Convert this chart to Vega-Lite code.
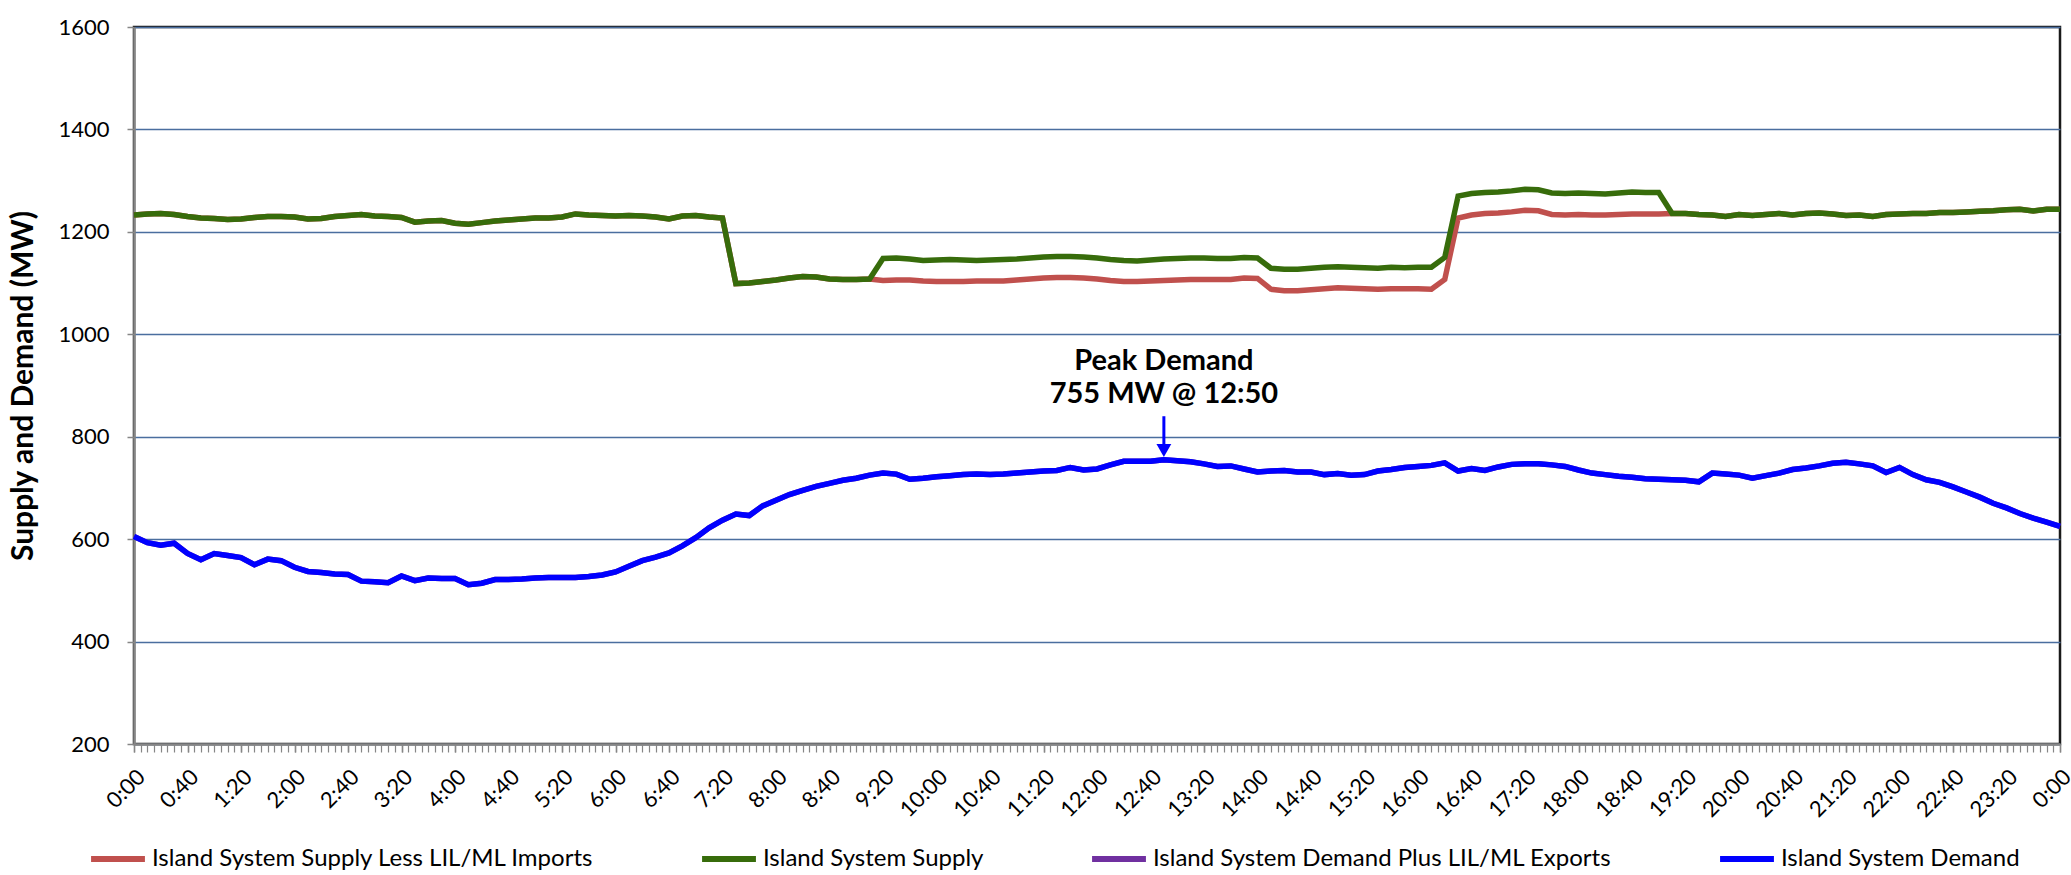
{
  "$schema": "https://vega.github.io/schema/vega-lite/v6.json",
  "width": 1926,
  "height": 717,
  "autosize": "none",
  "padding": {"left": 134, "top": 27, "right": 11, "bottom": 131},
  "background": "white",
  "config": {
    "font": "Lato",
    "view": {"stroke": "#1a1a1a", "strokeWidth": 2.5},
    "axis": {"labelColor": "#000", "titleColor": "#000", "labelFont": "Lato", "titleFont": "Lato"}
  },
  "datasets": {
    "load": [
      {"time":"2024-01-01T00:00","supplyLess":1233,"supply":1233,"demandPlus":605,"demand":605},
      {"time":"2024-01-01T00:10","supplyLess":1235,"supply":1235,"demandPlus":593,"demand":593},
      {"time":"2024-01-01T00:20","supplyLess":1236,"supply":1236,"demandPlus":588,"demand":588},
      {"time":"2024-01-01T00:30","supplyLess":1234,"supply":1234,"demandPlus":592,"demand":592},
      {"time":"2024-01-01T00:40","supplyLess":1230,"supply":1230,"demandPlus":572,"demand":572},
      {"time":"2024-01-01T00:50","supplyLess":1227,"supply":1227,"demandPlus":560,"demand":560},
      {"time":"2024-01-01T01:00","supplyLess":1226,"supply":1226,"demandPlus":572,"demand":572},
      {"time":"2024-01-01T01:10","supplyLess":1224,"supply":1224,"demandPlus":568,"demand":568},
      {"time":"2024-01-01T01:20","supplyLess":1225,"supply":1225,"demandPlus":564,"demand":564},
      {"time":"2024-01-01T01:30","supplyLess":1228,"supply":1228,"demandPlus":550,"demand":550},
      {"time":"2024-01-01T01:40","supplyLess":1230,"supply":1230,"demandPlus":561,"demand":561},
      {"time":"2024-01-01T01:50","supplyLess":1230,"supply":1230,"demandPlus":558,"demand":558},
      {"time":"2024-01-01T02:00","supplyLess":1229,"supply":1229,"demandPlus":545,"demand":545},
      {"time":"2024-01-01T02:10","supplyLess":1225,"supply":1225,"demandPlus":537,"demand":537},
      {"time":"2024-01-01T02:20","supplyLess":1226,"supply":1226,"demandPlus":535,"demand":535},
      {"time":"2024-01-01T02:30","supplyLess":1230,"supply":1230,"demandPlus":532,"demand":532},
      {"time":"2024-01-01T02:40","supplyLess":1232,"supply":1232,"demandPlus":531,"demand":531},
      {"time":"2024-01-01T02:50","supplyLess":1234,"supply":1234,"demandPlus":518,"demand":518},
      {"time":"2024-01-01T03:00","supplyLess":1231,"supply":1231,"demandPlus":517,"demand":517},
      {"time":"2024-01-01T03:10","supplyLess":1230,"supply":1230,"demandPlus":515,"demand":515},
      {"time":"2024-01-01T03:20","supplyLess":1228,"supply":1228,"demandPlus":528,"demand":528},
      {"time":"2024-01-01T03:30","supplyLess":1219,"supply":1219,"demandPlus":519,"demand":519},
      {"time":"2024-01-01T03:40","supplyLess":1221,"supply":1221,"demandPlus":524,"demand":524},
      {"time":"2024-01-01T03:50","supplyLess":1222,"supply":1222,"demandPlus":523,"demand":523},
      {"time":"2024-01-01T04:00","supplyLess":1217,"supply":1217,"demandPlus":523,"demand":523},
      {"time":"2024-01-01T04:10","supplyLess":1215,"supply":1215,"demandPlus":511,"demand":511},
      {"time":"2024-01-01T04:20","supplyLess":1218,"supply":1218,"demandPlus":514,"demand":514},
      {"time":"2024-01-01T04:30","supplyLess":1221,"supply":1221,"demandPlus":521,"demand":521},
      {"time":"2024-01-01T04:40","supplyLess":1223,"supply":1223,"demandPlus":521,"demand":521},
      {"time":"2024-01-01T04:50","supplyLess":1225,"supply":1225,"demandPlus":522,"demand":522},
      {"time":"2024-01-01T05:00","supplyLess":1227,"supply":1227,"demandPlus":524,"demand":524},
      {"time":"2024-01-01T05:10","supplyLess":1227,"supply":1227,"demandPlus":525,"demand":525},
      {"time":"2024-01-01T05:20","supplyLess":1229,"supply":1229,"demandPlus":525,"demand":525},
      {"time":"2024-01-01T05:30","supplyLess":1235,"supply":1235,"demandPlus":525,"demand":525},
      {"time":"2024-01-01T05:40","supplyLess":1233,"supply":1233,"demandPlus":527,"demand":527},
      {"time":"2024-01-01T05:50","supplyLess":1232,"supply":1232,"demandPlus":530,"demand":530},
      {"time":"2024-01-01T06:00","supplyLess":1231,"supply":1231,"demandPlus":536,"demand":536},
      {"time":"2024-01-01T06:10","supplyLess":1232,"supply":1232,"demandPlus":547,"demand":547},
      {"time":"2024-01-01T06:20","supplyLess":1231,"supply":1231,"demandPlus":558,"demand":558},
      {"time":"2024-01-01T06:30","supplyLess":1229,"supply":1229,"demandPlus":565,"demand":565},
      {"time":"2024-01-01T06:40","supplyLess":1225,"supply":1225,"demandPlus":573,"demand":573},
      {"time":"2024-01-01T06:50","supplyLess":1231,"supply":1231,"demandPlus":587,"demand":587},
      {"time":"2024-01-01T07:00","supplyLess":1232,"supply":1232,"demandPlus":603,"demand":603},
      {"time":"2024-01-01T07:10","supplyLess":1229,"supply":1229,"demandPlus":622,"demand":622},
      {"time":"2024-01-01T07:20","supplyLess":1227,"supply":1227,"demandPlus":637,"demand":637},
      {"time":"2024-01-01T07:30","supplyLess":1099,"supply":1099,"demandPlus":649,"demand":649},
      {"time":"2024-01-01T07:40","supplyLess":1100,"supply":1100,"demandPlus":646,"demand":646},
      {"time":"2024-01-01T07:50","supplyLess":1103,"supply":1103,"demandPlus":665,"demand":665},
      {"time":"2024-01-01T08:00","supplyLess":1106,"supply":1106,"demandPlus":676,"demand":676},
      {"time":"2024-01-01T08:10","supplyLess":1110,"supply":1110,"demandPlus":687,"demand":687},
      {"time":"2024-01-01T08:20","supplyLess":1113,"supply":1113,"demandPlus":695,"demand":695},
      {"time":"2024-01-01T08:30","supplyLess":1112,"supply":1112,"demandPlus":703,"demand":703},
      {"time":"2024-01-01T08:40","supplyLess":1108,"supply":1108,"demandPlus":709,"demand":709},
      {"time":"2024-01-01T08:50","supplyLess":1107,"supply":1107,"demandPlus":715,"demand":715},
      {"time":"2024-01-01T09:00","supplyLess":1107,"supply":1107,"demandPlus":719,"demand":719},
      {"time":"2024-01-01T09:10","supplyLess":1108,"supply":1108,"demandPlus":725,"demand":725},
      {"time":"2024-01-01T09:20","supplyLess":1105,"supply":1148,"demandPlus":729,"demand":729},
      {"time":"2024-01-01T09:30","supplyLess":1106,"supply":1149,"demandPlus":727,"demand":727},
      {"time":"2024-01-01T09:40","supplyLess":1106,"supply":1147,"demandPlus":717,"demand":717},
      {"time":"2024-01-01T09:50","supplyLess":1104,"supply":1144,"demandPlus":719,"demand":719},
      {"time":"2024-01-01T10:00","supplyLess":1103,"supply":1145,"demandPlus":722,"demand":722},
      {"time":"2024-01-01T10:10","supplyLess":1103,"supply":1146,"demandPlus":724,"demand":724},
      {"time":"2024-01-01T10:20","supplyLess":1103,"supply":1145,"demandPlus":726,"demand":726},
      {"time":"2024-01-01T10:30","supplyLess":1104,"supply":1144,"demandPlus":727,"demand":727},
      {"time":"2024-01-01T10:40","supplyLess":1104,"supply":1145,"demandPlus":726,"demand":726},
      {"time":"2024-01-01T10:50","supplyLess":1104,"supply":1146,"demandPlus":727,"demand":727},
      {"time":"2024-01-01T11:00","supplyLess":1106,"supply":1147,"demandPlus":729,"demand":729},
      {"time":"2024-01-01T11:10","supplyLess":1108,"supply":1149,"demandPlus":731,"demand":731},
      {"time":"2024-01-01T11:20","supplyLess":1110,"supply":1151,"demandPlus":733,"demand":733},
      {"time":"2024-01-01T11:30","supplyLess":1111,"supply":1152,"demandPlus":734,"demand":734},
      {"time":"2024-01-01T11:40","supplyLess":1111,"supply":1152,"demandPlus":740,"demand":740},
      {"time":"2024-01-01T11:50","supplyLess":1110,"supply":1151,"demandPlus":735,"demand":735},
      {"time":"2024-01-01T12:00","supplyLess":1108,"supply":1149,"demandPlus":737,"demand":737},
      {"time":"2024-01-01T12:10","supplyLess":1105,"supply":1146,"demandPlus":745,"demand":745},
      {"time":"2024-01-01T12:20","supplyLess":1103,"supply":1144,"demandPlus":752,"demand":752},
      {"time":"2024-01-01T12:30","supplyLess":1103,"supply":1143,"demandPlus":752,"demand":752},
      {"time":"2024-01-01T12:40","supplyLess":1104,"supply":1145,"demandPlus":752,"demand":752},
      {"time":"2024-01-01T12:50","supplyLess":1105,"supply":1147,"demandPlus":755,"demand":755},
      {"time":"2024-01-01T13:00","supplyLess":1106,"supply":1148,"demandPlus":753,"demand":753},
      {"time":"2024-01-01T13:10","supplyLess":1107,"supply":1149,"demandPlus":751,"demand":751},
      {"time":"2024-01-01T13:20","supplyLess":1107,"supply":1149,"demandPlus":747,"demand":747},
      {"time":"2024-01-01T13:30","supplyLess":1107,"supply":1148,"demandPlus":742,"demand":742},
      {"time":"2024-01-01T13:40","supplyLess":1107,"supply":1148,"demandPlus":743,"demand":743},
      {"time":"2024-01-01T13:50","supplyLess":1110,"supply":1150,"demandPlus":737,"demand":737},
      {"time":"2024-01-01T14:00","supplyLess":1109,"supply":1149,"demandPlus":731,"demand":731},
      {"time":"2024-01-01T14:10","supplyLess":1088,"supply":1129,"demandPlus":733,"demand":733},
      {"time":"2024-01-01T14:20","supplyLess":1085,"supply":1127,"demandPlus":734,"demand":734},
      {"time":"2024-01-01T14:30","supplyLess":1085,"supply":1127,"demandPlus":731,"demand":731},
      {"time":"2024-01-01T14:40","supplyLess":1087,"supply":1129,"demandPlus":731,"demand":731},
      {"time":"2024-01-01T14:50","supplyLess":1089,"supply":1131,"demandPlus":726,"demand":726},
      {"time":"2024-01-01T15:00","supplyLess":1091,"supply":1132,"demandPlus":728,"demand":728},
      {"time":"2024-01-01T15:10","supplyLess":1090,"supply":1131,"demandPlus":725,"demand":725},
      {"time":"2024-01-01T15:20","supplyLess":1089,"supply":1130,"demandPlus":726,"demand":726},
      {"time":"2024-01-01T15:30","supplyLess":1088,"supply":1129,"demandPlus":733,"demand":733},
      {"time":"2024-01-01T15:40","supplyLess":1089,"supply":1131,"demandPlus":736,"demand":736},
      {"time":"2024-01-01T15:50","supplyLess":1089,"supply":1130,"demandPlus":740,"demand":740},
      {"time":"2024-01-01T16:00","supplyLess":1089,"supply":1131,"demandPlus":742,"demand":742},
      {"time":"2024-01-01T16:10","supplyLess":1088,"supply":1131,"demandPlus":744,"demand":744},
      {"time":"2024-01-01T16:20","supplyLess":1107,"supply":1150,"demandPlus":749,"demand":749},
      {"time":"2024-01-01T16:30","supplyLess":1227,"supply":1270,"demandPlus":733,"demand":733},
      {"time":"2024-01-01T16:40","supplyLess":1233,"supply":1275,"demandPlus":738,"demand":738},
      {"time":"2024-01-01T16:50","supplyLess":1236,"supply":1277,"demandPlus":734,"demand":734},
      {"time":"2024-01-01T17:00","supplyLess":1237,"supply":1278,"demandPlus":741,"demand":741},
      {"time":"2024-01-01T17:10","supplyLess":1239,"supply":1280,"demandPlus":746,"demand":746},
      {"time":"2024-01-01T17:20","supplyLess":1242,"supply":1283,"demandPlus":747,"demand":747},
      {"time":"2024-01-01T17:30","supplyLess":1241,"supply":1282,"demandPlus":747,"demand":747},
      {"time":"2024-01-01T17:40","supplyLess":1234,"supply":1276,"demandPlus":745,"demand":745},
      {"time":"2024-01-01T17:50","supplyLess":1233,"supply":1275,"demandPlus":742,"demand":742},
      {"time":"2024-01-01T18:00","supplyLess":1234,"supply":1276,"demandPlus":735,"demand":735},
      {"time":"2024-01-01T18:10","supplyLess":1233,"supply":1275,"demandPlus":729,"demand":729},
      {"time":"2024-01-01T18:20","supplyLess":1233,"supply":1274,"demandPlus":726,"demand":726},
      {"time":"2024-01-01T18:30","supplyLess":1234,"supply":1276,"demandPlus":723,"demand":723},
      {"time":"2024-01-01T18:40","supplyLess":1235,"supply":1278,"demandPlus":721,"demand":721},
      {"time":"2024-01-01T18:50","supplyLess":1235,"supply":1277,"demandPlus":718,"demand":718},
      {"time":"2024-01-01T19:00","supplyLess":1235,"supply":1277,"demandPlus":717,"demand":717},
      {"time":"2024-01-01T19:10","supplyLess":1236,"supply":1236,"demandPlus":716,"demand":716},
      {"time":"2024-01-01T19:20","supplyLess":1236,"supply":1236,"demandPlus":715,"demand":715},
      {"time":"2024-01-01T19:30","supplyLess":1234,"supply":1234,"demandPlus":712,"demand":712},
      {"time":"2024-01-01T19:40","supplyLess":1233,"supply":1233,"demandPlus":729,"demand":729},
      {"time":"2024-01-01T19:50","supplyLess":1230,"supply":1230,"demandPlus":727,"demand":727},
      {"time":"2024-01-01T20:00","supplyLess":1234,"supply":1234,"demandPlus":725,"demand":725},
      {"time":"2024-01-01T20:10","supplyLess":1232,"supply":1232,"demandPlus":719,"demand":719},
      {"time":"2024-01-01T20:20","supplyLess":1234,"supply":1234,"demandPlus":724,"demand":724},
      {"time":"2024-01-01T20:30","supplyLess":1236,"supply":1236,"demandPlus":729,"demand":729},
      {"time":"2024-01-01T20:40","supplyLess":1233,"supply":1233,"demandPlus":736,"demand":736},
      {"time":"2024-01-01T20:50","supplyLess":1236,"supply":1236,"demandPlus":739,"demand":739},
      {"time":"2024-01-01T21:00","supplyLess":1237,"supply":1237,"demandPlus":743,"demand":743},
      {"time":"2024-01-01T21:10","supplyLess":1235,"supply":1235,"demandPlus":748,"demand":748},
      {"time":"2024-01-01T21:20","supplyLess":1232,"supply":1232,"demandPlus":750,"demand":750},
      {"time":"2024-01-01T21:30","supplyLess":1233,"supply":1233,"demandPlus":747,"demand":747},
      {"time":"2024-01-01T21:40","supplyLess":1230,"supply":1230,"demandPlus":743,"demand":743},
      {"time":"2024-01-01T21:50","supplyLess":1234,"supply":1234,"demandPlus":730,"demand":730},
      {"time":"2024-01-01T22:00","supplyLess":1235,"supply":1235,"demandPlus":740,"demand":740},
      {"time":"2024-01-01T22:10","supplyLess":1236,"supply":1236,"demandPlus":726,"demand":726},
      {"time":"2024-01-01T22:20","supplyLess":1236,"supply":1236,"demandPlus":716,"demand":716},
      {"time":"2024-01-01T22:30","supplyLess":1238,"supply":1238,"demandPlus":711,"demand":711},
      {"time":"2024-01-01T22:40","supplyLess":1238,"supply":1238,"demandPlus":702,"demand":702},
      {"time":"2024-01-01T22:50","supplyLess":1239,"supply":1239,"demandPlus":692,"demand":692},
      {"time":"2024-01-01T23:00","supplyLess":1240,"supply":1240,"demandPlus":682,"demand":682},
      {"time":"2024-01-01T23:10","supplyLess":1241,"supply":1241,"demandPlus":670,"demand":670},
      {"time":"2024-01-01T23:20","supplyLess":1243,"supply":1243,"demandPlus":661,"demand":661},
      {"time":"2024-01-01T23:30","supplyLess":1244,"supply":1244,"demandPlus":650,"demand":650},
      {"time":"2024-01-01T23:40","supplyLess":1241,"supply":1241,"demandPlus":641,"demand":641},
      {"time":"2024-01-01T23:50","supplyLess":1244,"supply":1244,"demandPlus":633,"demand":633},
      {"time":"2024-01-02T00:00","supplyLess":1244,"supply":1244,"demandPlus":625,"demand":625}
    ],
    "peak": [
      {"time":"2024-01-01T12:50","demand":755,"label":"Peak Demand\n755 MW @ 12:50"}
    ]
  },
  "layer": [
    {
      "data": {"name": "load"},
      "transform": [{"fold": ["supplyLess", "supply", "demandPlus", "demand"], "as": ["series", "mw"]}],
      "mark": {"type": "line", "strokeWidth": 5.5},
      "encoding": {
        "x": {
          "field": "time", "type": "temporal",
          "axis": {
            "orient": "bottom",
            "title": null,
            "grid": false,
            "format": "%-H:%M",
            "values": [
              {"year":2024,"month":1,"date":1,"hours":0,"minutes":0},
              {"year":2024,"month":1,"date":1,"hours":0,"minutes":40},
              {"year":2024,"month":1,"date":1,"hours":1,"minutes":20},
              {"year":2024,"month":1,"date":1,"hours":2,"minutes":0},
              {"year":2024,"month":1,"date":1,"hours":2,"minutes":40},
              {"year":2024,"month":1,"date":1,"hours":3,"minutes":20},
              {"year":2024,"month":1,"date":1,"hours":4,"minutes":0},
              {"year":2024,"month":1,"date":1,"hours":4,"minutes":40},
              {"year":2024,"month":1,"date":1,"hours":5,"minutes":20},
              {"year":2024,"month":1,"date":1,"hours":6,"minutes":0},
              {"year":2024,"month":1,"date":1,"hours":6,"minutes":40},
              {"year":2024,"month":1,"date":1,"hours":7,"minutes":20},
              {"year":2024,"month":1,"date":1,"hours":8,"minutes":0},
              {"year":2024,"month":1,"date":1,"hours":8,"minutes":40},
              {"year":2024,"month":1,"date":1,"hours":9,"minutes":20},
              {"year":2024,"month":1,"date":1,"hours":10,"minutes":0},
              {"year":2024,"month":1,"date":1,"hours":10,"minutes":40},
              {"year":2024,"month":1,"date":1,"hours":11,"minutes":20},
              {"year":2024,"month":1,"date":1,"hours":12,"minutes":0},
              {"year":2024,"month":1,"date":1,"hours":12,"minutes":40},
              {"year":2024,"month":1,"date":1,"hours":13,"minutes":20},
              {"year":2024,"month":1,"date":1,"hours":14,"minutes":0},
              {"year":2024,"month":1,"date":1,"hours":14,"minutes":40},
              {"year":2024,"month":1,"date":1,"hours":15,"minutes":20},
              {"year":2024,"month":1,"date":1,"hours":16,"minutes":0},
              {"year":2024,"month":1,"date":1,"hours":16,"minutes":40},
              {"year":2024,"month":1,"date":1,"hours":17,"minutes":20},
              {"year":2024,"month":1,"date":1,"hours":18,"minutes":0},
              {"year":2024,"month":1,"date":1,"hours":18,"minutes":40},
              {"year":2024,"month":1,"date":1,"hours":19,"minutes":20},
              {"year":2024,"month":1,"date":1,"hours":20,"minutes":0},
              {"year":2024,"month":1,"date":1,"hours":20,"minutes":40},
              {"year":2024,"month":1,"date":1,"hours":21,"minutes":20},
              {"year":2024,"month":1,"date":1,"hours":22,"minutes":0},
              {"year":2024,"month":1,"date":1,"hours":22,"minutes":40},
              {"year":2024,"month":1,"date":1,"hours":23,"minutes":20},
              {"year":2024,"month":1,"date":2,"hours":0,"minutes":0}
            ],
            "labelAngle": -45,
            "labelPadding": 14,
            "labelFontSize": 22,
            "labelOverlap": false,
            "labelFlush": false,
            "tickSize": 8,
            "tickColor": "#868686",
            "tickWidth": 1.5,
            "domainColor": "#868686",
            "domainWidth": 2.5
          }
        },
        "y": {
          "field": "mw", "type": "quantitative",
          "scale": {"domain": [200, 1600], "nice": false, "zero": false},
          "axis": {
            "title": "Supply and Demand (MW)",
            "titleFontSize": 30,
            "titleFontWeight": "bold",
            "titlePadding": 19,
            "values": [200, 400, 600, 800, 1000, 1200, 1400, 1600],
            "format": "d",
            "labelFontSize": 22,
            "labelPadding": 18,
            "tickSize": 7,
            "tickColor": "#868686",
            "tickWidth": 1.5,
            "domainColor": "#868686",
            "domainWidth": 2.5,
            "grid": true,
            "gridColor": "#4A6E9F",
            "gridWidth": 1.6
          }
        },
        "color": {
          "field": "series", "type": "nominal",
          "scale": {
            "domain": ["supplyLess", "supply", "demandPlus", "demand"],
            "range": ["#C0504D", "#376C0B", "#7030A0", "#0000FF"]
          },
          "legend": {
            "title": null,
            "orient": "none",
            "legendX": -46,
            "legendY": 802,
            "direction": "horizontal",
            "columns": 4,
            "columnPadding": 96,
            "symbolType": "stroke",
            "symbolSize": 2900,
            "symbolStrokeWidth": 6,
            "labelFontSize": 24,
            "labelLimit": 0,
            "labelExpr": "datum.value == 'supplyLess' ? 'Island System Supply Less LIL/ML Imports' : datum.value == 'supply' ? 'Island System Supply' : datum.value == 'demandPlus' ? 'Island System Demand Plus LIL/ML Exports' : 'Island System Demand'"
          }
        }
      }
    },
    {
      "data": {"name": "peak"},
      "mark": {"type": "text", "fontWeight": "bold", "fontSize": 29, "align": "center", "baseline": "alphabetic", "lineBreak": "\n", "lineHeight": 33, "dy": -90},
      "encoding": {
        "x": {"field": "time", "type": "temporal", "axis": null},
        "y": {"field": "demand", "type": "quantitative"},
        "text": {"field": "label"}
      }
    },
    {
      "data": {"name": "peak"},
      "mark": {"type": "rule", "color": "#0000FF", "strokeWidth": 3},
      "encoding": {
        "x": {
          "field": "time", "type": "temporal",
          "axis": {
            "orient": "bottom",
            "title": null,
            "labels": false,
            "grid": false,
            "domain": false,
            "tickCount": 288,
            "tickSize": 8,
            "tickColor": "#868686",
            "tickWidth": 1.2
          }
        },
        "y": {"datum": 840},
        "y2": {"datum": 770}
      }
    },
    {
      "data": {"name": "peak"},
      "mark": {"type": "point", "shape": "triangle-down", "filled": true, "size": 220, "color": "#0000FF", "opacity": 1},
      "encoding": {
        "x": {"field": "time", "type": "temporal", "axis": null},
        "y": {"datum": 773}
      }
    }
  ],
  "resolve": {"axis": {"x": "independent"}}
}
